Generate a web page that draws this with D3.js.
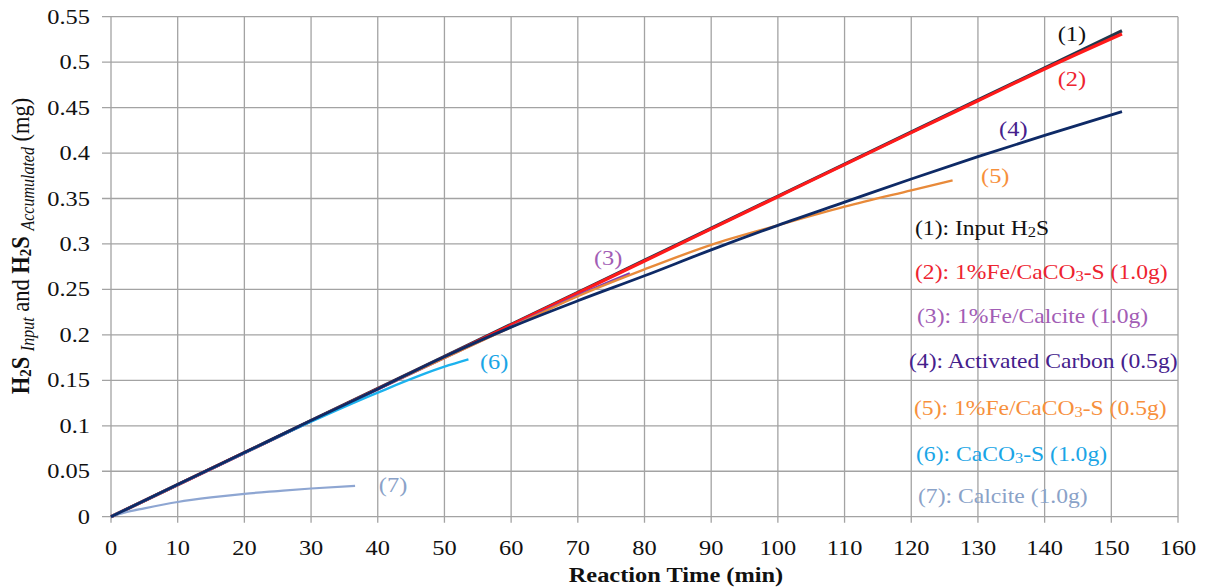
<!DOCTYPE html>
<html>
<head>
<meta charset="utf-8">
<script src="https://cdn.jsdelivr.net/npm/d3@7"></script>
<style>
  html, body { margin: 0; padding: 0; background: #fff; }
  svg { display: block; font-family: "Liberation Serif", "Times New Roman", serif; }
</style>
</head>
<body>
<svg id="chart" width="1208" height="587"></svg>
<script>
// ---------- data ----------
const xTickValues = [0,10,20,30,40,50,60,70,80,90,100,110,120,130,140,150,160];
const xTickLabels = ["0","10","20","30","40","50","60","70","80","90","100","110","120","130","140","150","160"];
const yTickValues = [0,0.05,0.1,0.15,0.2,0.25,0.3,0.35,0.4,0.45,0.5,0.55];
const yTickLabels = ["0","0.05","0.1","0.15","0.2","0.25","0.3","0.35","0.4","0.45","0.5","0.55"];

const seriesIds = ["(1)","(2)","(3)","(4)","(5)","(6)","(7)"];

const s1InputH2S = [[0,0],[20,0.0705],[40,0.141],[60,0.2116],[80,0.2821],[100,0.3526],[120,0.4231],[140,0.4937],[151.6,0.5346]];
const s2FeCaCO3S1g = [[0,0],[20,0.0703],[40,0.1406],[60,0.2108],[80,0.2812],[100,0.352],[120,0.4225],[130,0.4575],[140,0.4925],[151.6,0.531]];
const s3FeCalcite1g = [[0,0],[20,0.070],[40,0.140],[60,0.209],[70,0.2435],[77.8,0.2677]];
const s4ActCarbon = [[0,0],[10,0.0353],[20,0.0705],[30,0.1057],[40,0.1405],[50,0.176],[60,0.2085],[70,0.2375],[80,0.265],[90,0.2935],[100,0.3205],[110,0.346],[120,0.3715],[130,0.396],[140,0.4195],[151.6,0.4455]];
const s5FeCaCO3S05g = [[0,0],[20,0.0703],[40,0.1405],[60,0.2085],[70,0.2425],[80,0.272],[90,0.299],[100,0.3205],[110,0.341],[120,0.359],[126.2,0.370]];
const s6CaCO3S = [[0,0],[10,0.0352],[20,0.0702],[30,0.1045],[40,0.1365],[50,0.165],[53.6,0.173]];
const s7Calcite = [[0,0],[2,0.0045],[5,0.0092],[10,0.0162],[15,0.0212],[20,0.0252],[25,0.0282],[30,0.031],[36.6,0.034]];

// curve tag anchors (data units: minutes, mg)
const tagT = [144.1,144.1,74.55,135.3,132.6,57.45,42.3];
const tagV = [0.5298,0.4803,0.2835,0.4254,0.3737,0.1691,0.0338];

// ---------- styles ----------
const lineColors = ["#22384c","#ff1a1a","#7d3cb5","#0e2a66","#e88a3a","#1cb2ee","#8ea6d2"];
const lineWidths = [3.2,3.2,2.4,2.8,2.4,2.4,2.2];
const tagColors  = ["#111111","#ee2430","#a25db5","#45208c","#f7903c","#1aa5e6","#8aa2c8"];
const drawOrder = [0,1,2,4,5,6,3];

const svg = d3.select("#chart");
const W = 1208, H = 587;
svg.append("rect").attr("width",W).attr("height",H).attr("fill","#fff");

const x = d3.scaleLinear().domain([0,160]).range([111,1178]);
const y = d3.scaleLinear().domain([0,0.55]).range([516.7,16.7]);
const SX = 1.22; // horizontal stretch of reference text

// grid
const grid = svg.append("g").attr("stroke","#a3a3a3").attr("stroke-width",1.3);
grid.selectAll("line.v").data(xTickValues).join("line")
  .attr("x1",d=>x(d)).attr("x2",d=>x(d)).attr("y1",y(0)+6).attr("y2",y(0.55));
grid.selectAll("line.h").data(yTickValues).join("line")
  .attr("x1",x(0)-9).attr("x2",x(160)).attr("y1",d=>y(d)).attr("y2",d=>y(d));

// tick labels
function stretchedText(g, tx, ty, txt, anchor, size, weight, fill){
  return g.append("text")
    .attr("transform",`translate(${tx},${ty}) scale(${SX},1)`)
    .attr("text-anchor",anchor).attr("font-size",size)
    .attr("font-weight",weight||"normal").attr("fill",fill||"#111").text(txt);
}
const tg = svg.append("g");
xTickValues.forEach((v,i)=> stretchedText(tg, x(v), 555, xTickLabels[i], "middle", 20));
yTickValues.forEach((v,i)=> stretchedText(tg, 90, y(v)+7, yTickLabels[i], "end", 20));

// lines
const series = [s1InputH2S,s2FeCaCO3S1g,s3FeCalcite1g,s4ActCarbon,s5FeCaCO3S05g,s6CaCO3S,s7Calcite];
const line = d3.line().x(d=>x(d[0])).y(d=>y(d[1])).curve(d3.curveMonotoneX);
const lg = svg.append("g").attr("fill","none").attr("stroke-linecap","butt").attr("stroke-linejoin","round");
drawOrder.forEach(i=>{
  lg.append("path").datum(series[i]).attr("d",line)
    .attr("stroke",lineColors[i]).attr("stroke-width",lineWidths[i]);
});

// curve tags
const tagG = svg.append("g");
seriesIds.forEach((id,i)=>{
  stretchedText(tagG, x(tagT[i]), y(tagV[i])+6, id, "middle", 20, "normal", tagColors[i]);
});

// legend (text only, as in reference)
const legendRows = [
  {x:915, y:235, parts:[["(1): Input H",0],["2",1],["S",0]]},
  {x:915, y:279, parts:[["(2): 1%Fe/CaCO",0],["3",1],["-S (1.0g)",0]]},
  {x:917, y:323, parts:[["(3): 1%Fe/Calcite (1.0g)",0]]},
  {x:909, y:368, parts:[["(4): Activated Carbon (0.5g)",0]]},
  {x:914, y:415, parts:[["(5): 1%Fe/CaCO",0],["3",1],["-S (0.5g)",0]]},
  {x:916, y:461, parts:[["(6): CaCO",0],["3",1],["-S (1.0g)",0]]},
  {x:918, y:503, parts:[["(7): Calcite (1.0g)",0]]}
];
const legG = svg.append("g");
legendRows.forEach((r,i)=>{
  const t = legG.append("text")
    .attr("transform",`translate(${r.x},${r.y}) scale(1.18,1)`)
    .attr("font-size",20).attr("fill",tagColors[i]);
  r.parts.forEach(p=>{
    const sp = t.append("tspan").text(p[0]);
    if(p[1]) sp.attr("font-size",14).attr("dy",2);
    else if(t.selectAll("tspan").size()>1) sp.attr("dy",-2);
  });
});

// x-axis title
stretchedText(svg, 676, 582, "Reaction Time (min)", "middle", 20, "bold", "#111");

// y-axis title
const yt = svg.append("text")
  .attr("transform",`translate(29,246) scale(1.15,1) rotate(-90)`)
  .attr("text-anchor","middle").attr("font-size",22.5).attr("fill","#111");
yt.append("tspan").attr("font-weight","bold").text("H");
yt.append("tspan").attr("font-weight","bold").attr("font-size",15).attr("dy",2).text("2");
yt.append("tspan").attr("font-weight","bold").attr("dy",-2).text("S");
yt.append("tspan").text(" ");
yt.append("tspan").attr("font-style","italic").attr("font-size",16).attr("dy",4).text("Input");
yt.append("tspan").attr("dy",-4).text("  and ");
yt.append("tspan").attr("font-weight","bold").text("H");
yt.append("tspan").attr("font-weight","bold").attr("font-size",15).attr("dy",2).text("2");
yt.append("tspan").attr("font-weight","bold").attr("dy",-2).text("S");
yt.append("tspan").text(" ");
yt.append("tspan").attr("font-style","italic").attr("font-size",16).attr("dy",4).text("Accumulated");
yt.append("tspan").attr("dy",-4).text(" (mg)");
</script>
</body>
</html>
